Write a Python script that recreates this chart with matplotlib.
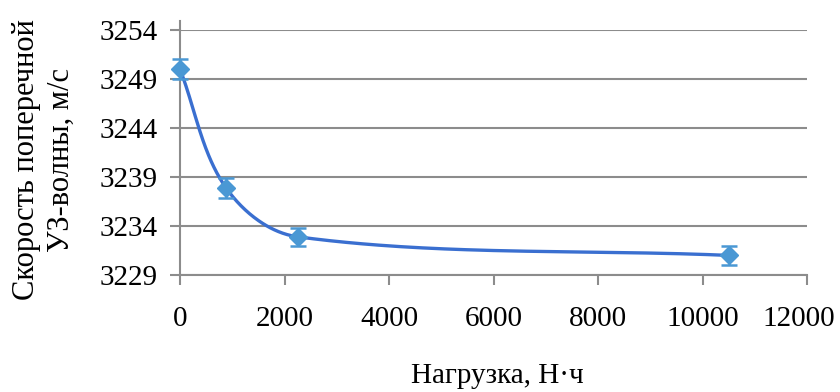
import numpy as np
import matplotlib
matplotlib.use("Agg")
import matplotlib.pyplot as plt
from matplotlib.lines import Line2D
from matplotlib.transforms import ScaledTranslation

# Data
load_hours = [0, 880, 2250, 10500]
velocity   = [3250.0, 3237.9, 3232.9, 3231.0]
velocity_err = [1.0, 1.0, 0.9, 1.0]

x_ticks = [0, 2000, 4000, 6000, 8000, 10000, 12000]
y_ticks = [3229, 3234, 3239, 3244, 3249, 3254]

LINE_COLOR   = "#3a6fd0"
MARKER_COLOR = "#4a98d4"
GRID_COLOR   = "#8c8c8c"

plt.rcParams["font.family"] = ["Liberation Serif", "DejaVu Serif"]


def smooth_curve(xs, ys, n=80):
    """Smoothed line through the points (Bezier, tangents scaled per segment)."""
    sx = (x_ticks[-1] - x_ticks[0]) / 627.0
    sy = (y_ticks[-1] - y_ticks[0]) / 245.0
    p = np.column_stack([np.asarray(xs, float) / sx, np.asarray(ys, float) / sy])
    k = len(p)
    tang = np.zeros_like(p)
    for i in range(k):
        d = p[min(i + 1, k - 1)] - p[max(i - 1, 0)]
        tang[i] = d / np.linalg.norm(d)
    t = np.linspace(0, 1, n)[:, None]
    pts = []
    for i in range(k - 1):
        L = np.linalg.norm(p[i + 1] - p[i])
        b1 = p[i] + tang[i] * L / 3.0
        b2 = p[i + 1] - tang[i + 1] * L / 3.0
        seg = ((1 - t) ** 3 * p[i] + 3 * (1 - t) ** 2 * t * b1
               + 3 * (1 - t) * t ** 2 * b2 + t ** 3 * p[i + 1])
        pts.append(seg)
    pts = np.vstack(pts)
    return pts[:, 0] * sx, pts[:, 1] * sy


fig = plt.figure(figsize=(8.4, 3.92), dpi=100)
ax = fig.add_axes([180 / 840, 1 - 275 / 392, 627 / 840, 245 / 392])

cx, cy = smooth_curve(load_hours, velocity)
ax.plot(cx, cy, color=LINE_COLOR, linewidth=2.4, zorder=3, clip_on=False)
ax.errorbar(load_hours, velocity, yerr=velocity_err, fmt="D", color=MARKER_COLOR,
            markersize=9, ecolor=MARKER_COLOR, elinewidth=1.8, capsize=6,
            capthick=1.8, zorder=4, clip_on=False)

ax.set_xlim(x_ticks[0], x_ticks[-1])
ax.set_ylim(y_ticks[0], y_ticks[-1])
ax.set_xticks(x_ticks)
ax.set_yticks(y_ticks)
ax.tick_params(axis="both", labelsize=21, color=GRID_COLOR, width=1.5, length=7)
ax.tick_params(axis="y", pad=9)
ax.tick_params(axis="x", pad=15)

# last x label sits a little left of its tick in the reference
last = ax.get_xticklabels()[-1]
last.set_transform(last.get_transform() + ScaledTranslation(-8 / 100, 0, fig.dpi_scale_trans))

ax.grid(axis="y", color=GRID_COLOR, linewidth=1.5)
ax.set_axisbelow(True)
for side in ["top", "right"]:
    ax.spines[side].set_visible(False)
for side in ["left", "bottom"]:
    ax.spines[side].set_color(GRID_COLOR)
    ax.spines[side].set_linewidth(1.5)
# y axis line runs a little above the top gridline, as in Excel
ax.add_line(Line2D([0, 0], [1.0, 1.035], transform=ax.transAxes, color=GRID_COLOR,
                   linewidth=1.5, clip_on=False))

fig.text(44 / 840, 1 - 160 / 392, "Скорость поперечной\nУЗ-волны, м/с", fontsize=22,
         rotation=90, ha="center", va="center", linespacing=1.25)
fig.text(497 / 840, 1 - 376 / 392, "Нагрузка, Н·ч", fontsize=21,
         ha="center", va="center")

fig.savefig("out.png", dpi=100)
